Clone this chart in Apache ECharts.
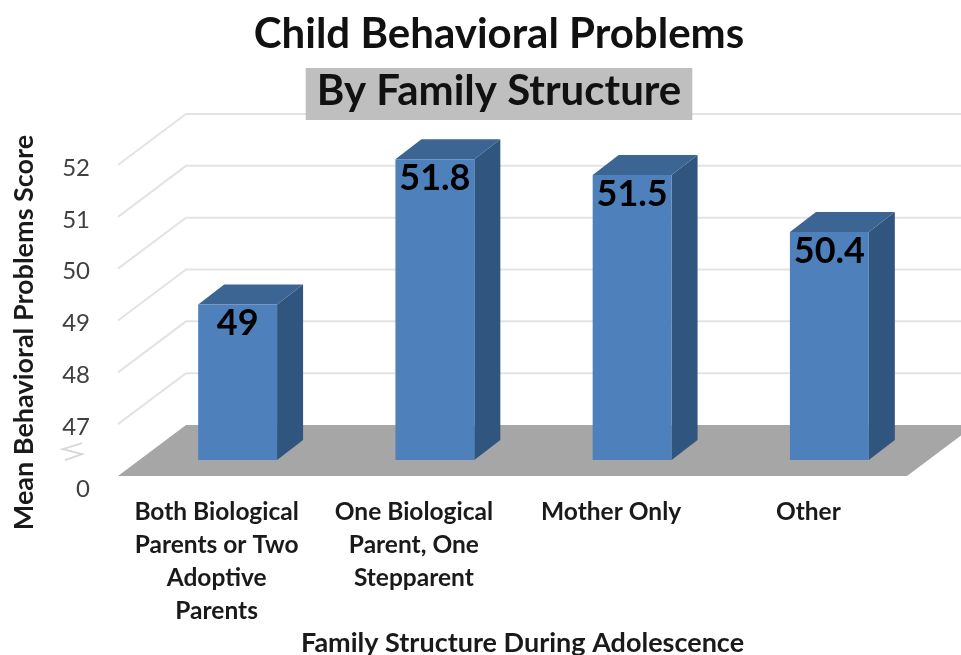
<!DOCTYPE html>
<html>
<head>
<meta charset="utf-8">
<title>Child Behavioral Problems</title>
<style>
  html, body { margin: 0; padding: 0; background: #fff; }
  #chart { width: 961px; height: 655px; }
</style>
</head>
<body>
<div id="chart"></div>
<script src="https://cdn.jsdelivr.net/npm/echarts@6/dist/echarts.min.js"></script>
<script>
const categories = [
  'Both Biological\nParents or Two\nAdoptive\nParents',
  'One Biological\nParent, One\nStepparent',
  'Mother Only',
  'Other'
]
const scores = [49, 51.8, 51.5, 50.4]
const gridValues = [47, 48, 49, 50, 51, 52]
const axisBase = 46
const axisTop = 52
const baseLabel = '0'

// fake 3d depth of the floor and of the bars, in px
const floorDepth = { x: 68, y: 51 }
const barFront = { x: 21, y: 16 }
const barSide = { x: 26, y: 20 }

const fontName = 'Lato'
const chart = echarts.init(document.getElementById('chart'))

// left and right end of the category axis at a given value
function axisEnds(api, value) {
  const band = api.size([1, 0])[0]
  const first = api.coord([0, value])
  const last = api.coord([categories.length - 1, value])
  return [[first[0] - band / 2, first[1]], [last[0] + band / 2, last[1]]]
}

function renderFloor(params, api) {
  const [l, r] = axisEnds(api, axisBase)
  return {
    type: 'polygon',
    shape: {
      points: [
        [l[0], l[1]],
        [r[0], r[1]],
        [r[0] + floorDepth.x, r[1] - floorDepth.y],
        [l[0] + floorDepth.x, l[1] - floorDepth.y]
      ]
    },
    style: { fill: '#a6a6a6' }
  }
}

function renderGridLine(params, api) {
  const [l, r] = axisEnds(api, api.value(0))
  return {
    type: 'polyline',
    shape: {
      points: [
        [l[0], l[1]],
        [l[0] + floorDepth.x, l[1] - floorDepth.y],
        [r[0] + floorDepth.x, r[1] - floorDepth.y]
      ]
    },
    style: { fill: 'none', stroke: '#e3e3e3', lineWidth: 2 }
  }
}

function renderBar(params, api) {
  const idx = api.value(0)
  const val = api.value(1)
  const w = api.size([1, 0])[0] * 0.4
  const top = api.coord([idx, val])
  const base = api.coord([idx, axisBase])
  const x0 = top[0] - w / 2 + barFront.x
  const x1 = x0 + w
  const y0 = top[1] - barFront.y
  const y1 = base[1] - barFront.y
  return {
    type: 'group',
    children: [
      {
        type: 'polygon',
        shape: { points: [[x1, y0], [x1 + barSide.x, y0 - barSide.y], [x1 + barSide.x, y1 - barSide.y], [x1, y1]] },
        style: { fill: '#30557f' }
      },
      {
        type: 'polygon',
        shape: { points: [[x0, y0], [x0 + barSide.x, y0 - barSide.y], [x1 + barSide.x, y0 - barSide.y], [x1, y0]] },
        style: { fill: '#3d6593' }
      },
      {
        type: 'rect',
        shape: { x: x0, y: y0, width: w, height: y1 - y0 },
        style: { fill: '#4e80bc' }
      },
      {
        type: 'text',
        x: (x0 + x1) / 2,
        y: y0 + 19,
        style: {
          text: String(val),
          fill: '#000',
          font: 'bold 36px ' + fontName,
          align: 'center',
          verticalAlign: 'middle'
        }
      }
    ]
  }
}

// small "broken axis" zigzag between 0 and 47
function renderBreak(params, api) {
  const [l] = axisEnds(api, api.value(0))
  const x = l[0] - 36
  const y = l[1]
  return {
    type: 'polyline',
    shape: { points: [[x, y - 9], [x - 19, y - 3], [x, y + 2], [x - 17, y + 8]] },
    style: { fill: 'none', stroke: '#d8d8d8', lineWidth: 2 }
  }
}

chart.setOption({
  animation: false,
  backgroundColor: '#fff',
  textStyle: { fontFamily: fontName },
  title: [
    {
      text: 'Child Behavioral Problems',
      left: 499,
      top: 13,
      textAlign: 'center',
      padding: 0,
      textStyle: { fontSize: 42, fontWeight: 'bold', color: '#111' }
    },
    {
      text: 'By Family Structure',
      left: 488,
      top: 68,
      textAlign: 'center',
      backgroundColor: '#bfbfbf',
      padding: [2, 11, 8, 11],
      textStyle: { fontSize: 42, fontWeight: 'bold', color: '#111' }
    }
  ],
  grid: { left: 118, right: 54, top: 165, bottom: 179, outerBoundsMode: 'none' },
  xAxis: {
    type: 'category',
    data: categories,
    name: 'Family Structure During Adolescence',
    nameLocation: 'middle',
    nameGap: 154,
    nameTextStyle: { fontSize: 27, fontWeight: 'bold', color: '#1a1a1a', padding: [0, 0, 0, 20] },
    axisLine: { show: false },
    axisTick: { show: false },
    axisLabel: {
      margin: 20,
      interval: 0,
      fontSize: 24.5,
      fontWeight: 'bold',
      color: '#1a1a1a',
      lineHeight: 33
    }
  },
  yAxis: {
    type: 'value',
    min: axisBase,
    max: axisTop,
    interval: 1,
    name: 'Mean Behavioral Problems Score',
    nameLocation: 'middle',
    nameGap: 80,
    nameTextStyle: { fontSize: 27, fontWeight: 'bold', color: '#1a1a1a', padding: [0, 24, 0, 0] },
    axisLine: { show: false },
    axisTick: { show: false },
    splitLine: { show: false },
    axisLabel: {
      margin: 28,
      fontSize: 24,
      color: '#404040',
      padding: [6, 0, 0, 0],
      formatter: (v) => (v === axisBase ? '{z|' + baseLabel + '}' : String(v)),
      rich: { z: { fontSize: 24, color: '#404040', padding: [21, 0, 0, 0] } }
    }
  },
  series: [
    { type: 'custom', renderItem: renderGridLine, data: gridValues.map((v) => [v]), encode: { y: 0 }, silent: true, clip: false, z: 1 },
    { type: 'custom', renderItem: renderFloor, data: [[axisBase]], encode: { y: 0 }, silent: true, clip: false, z: 2 },
    { type: 'custom', renderItem: renderBar, data: scores.map((v, i) => [i, v]), encode: { x: 0, y: 1 }, clip: false, z: 3 },
    { type: 'custom', renderItem: renderBreak, data: [[46.46]], encode: { y: 0 }, silent: true, clip: false, z: 3 }
  ]
})
</script>
</body>
</html>
